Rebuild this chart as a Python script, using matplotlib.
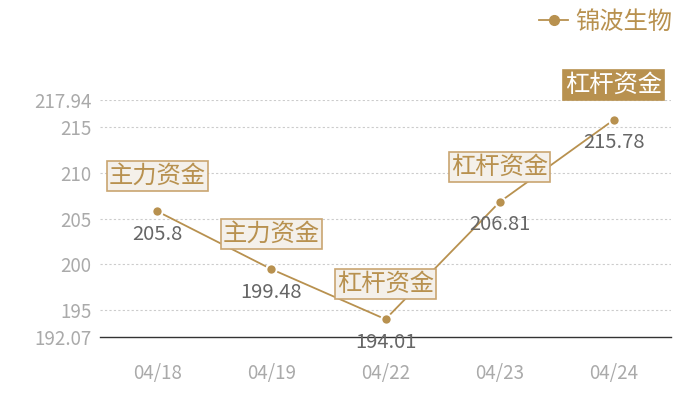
import matplotlib
matplotlib.use('Agg')
import matplotlib.pyplot as plt

plt.rcParams['font.family'] = ['Noto Sans CJK SC', 'DejaVu Sans']

# chart data
dates = ['04/18', '04/19', '04/22', '04/23', '04/24']
prices = [205.8, 199.48, 194.01, 206.81, 215.78]
tags = ['主力资金', '主力资金', '杠杆资金', '杠杆资金', '杠杆资金']
y_ticks = [192.07, 195, 200, 205, 210, 215, 217.94]
y_min, y_max = 192.07, 217.94
series_name = '锦波生物'

gold = '#b8914f'
box_fill = '#f4f0ea'
box_edge = '#c9a571'

fig = plt.figure(figsize=(7, 4), dpi=100)
ax = fig.add_axes([100 / 700, 1 - 337 / 400, 571 / 700, 237 / 400])

x = list(range(len(dates)))
ax.plot(x, prices, color=gold, lw=1.3, marker='o', markersize=7.5,
        markeredgecolor='white', markeredgewidth=1.5, zorder=2)
# legend handle without white edge
ax.plot([], [], color=gold, lw=1.3, marker='o', markersize=7, label=series_name)

ax.set_xlim(-0.5, len(dates) - 0.5)
ax.set_ylim(y_min, y_max)
ax.set_xticks(x)
ax.set_xticklabels(dates)
ax.set_yticks(y_ticks)
ax.set_yticklabels(['{:g}'.format(v) for v in y_ticks])
ax.tick_params(axis='both', length=0, labelsize=13.5, colors='#aaaaaa')
ax.tick_params(axis='x', pad=19)
ax.tick_params(axis='y', pad=6)

for v in y_ticks[1:]:
    ax.axhline(v, color='#cccccc', lw=0.8, ls=(0, (2, 2)), zorder=1)

for s in ['top', 'right', 'left']:
    ax.spines[s].set_visible(False)
ax.spines['bottom'].set_color('#333333')
ax.spines['bottom'].set_linewidth(1)

for i, (p, t) in enumerate(zip(prices, tags)):
    ax.annotate('{:g}'.format(p), (i, p), xytext=(0, -23), textcoords='offset pixels',
                ha='center', va='center', fontsize=14.5, color='#666666', zorder=3)
    last = i == len(prices) - 1
    ax.annotate(t, (i, p), xytext=(0, 35), textcoords='offset pixels',
                ha='center', va='center', fontsize=17.5,
                color='white' if last else gold, zorder=4,
                bbox=dict(boxstyle='square,pad=0.08',
                          fc=gold if last else box_fill,
                          ec=gold if last else box_edge, lw=1.2))

leg = ax.legend(loc='upper right', bbox_to_anchor=(1.003, 1.385), frameon=False,
                fontsize=17.5, labelcolor=gold, handlelength=1.2, handletextpad=0.3,
                borderaxespad=0, borderpad=0)

fig.savefig('out.png', dpi=100)
